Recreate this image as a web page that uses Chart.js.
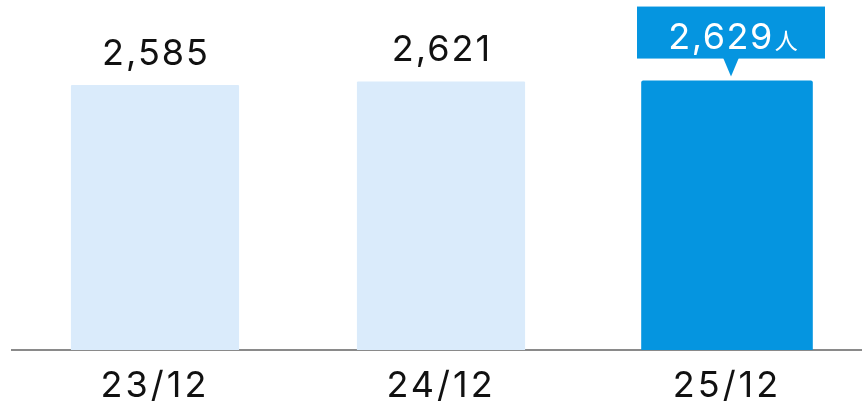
<!DOCTYPE html>
<html>
<head>
<meta charset="utf-8">
<script src="https://cdn.jsdelivr.net/npm/chart.js@4.4.1/dist/chart.umd.min.js"></script>
<style>
  html, body { margin: 0; padding: 0; background: #fff; overflow: hidden; }
  #wrap { position: relative; width: 870px; height: 405px; }
</style>
</head>
<body>
<div id="wrap"><canvas id="c"></canvas></div>
<script>
const categories = ['23/12', '24/12', '25/12'];
const values = [2585, 2621, 2629];
const highlightIndex = 2;
const unit = '人';

const FONT = 'Inter, "Noto Sans CJK JP", sans-serif';
const LIGHT = '#DAEBFB';
const BLUE = '#0595E0';

const spacingPlugin = {
  id: 'spacing',
  beforeDraw(chart) { chart.ctx.letterSpacing = '3px'; },
  afterDraw(chart) { chart.ctx.letterSpacing = '0px'; }
};

const labelPlugin = {
  id: 'valueLabels',
  afterDatasetsDraw(chart) {
    const ctx = chart.ctx;
    ctx.save();
    const meta0 = chart.getDatasetMeta(0);
    meta0.data.forEach((bar, i) => {
      if (i === highlightIndex) return;
      ctx.font = '400 36px ' + FONT;
      ctx.fillStyle = '#111';
      ctx.textAlign = 'center';
      ctx.textBaseline = 'alphabetic';
      ctx.letterSpacing = '2px';
      ctx.fillText(values[i].toLocaleString('en-US'), bar.x + 1, bar.y - 20);
    });
    const meta1 = chart.getDatasetMeta(1);
    const bar = meta1.data[highlightIndex];
    if (bar) {
      const cx = bar.x + 4;
      const top = bar.y;
      const bw = 188, bh = 52;
      const bx = cx - bw / 2, by = top - 74;
      ctx.fillStyle = BLUE;
      ctx.fillRect(bx, by, bw, bh);
      ctx.beginPath();
      ctx.moveTo(cx - 8, by + bh - 1);
      ctx.lineTo(cx + 8, by + bh - 1);
      ctx.lineTo(cx, top - 4);
      ctx.closePath();
      ctx.fill();
      const numText = values[highlightIndex].toLocaleString('en-US');
      ctx.letterSpacing = '1.5px';
      ctx.font = '400 36px ' + FONT;
      const w1 = ctx.measureText(numText).width;
      ctx.letterSpacing = '0px';
      ctx.font = '400 23px "Noto Sans CJK JP", sans-serif';
      const w2 = ctx.measureText(unit).width;
      const gap = 1;
      const total = w1 + gap + w2;
      let x = cx + 2 - total / 2;
      ctx.fillStyle = '#fff';
      ctx.textAlign = 'left';
      ctx.textBaseline = 'alphabetic';
      ctx.letterSpacing = '1.5px';
      ctx.font = '400 36px ' + FONT;
      ctx.fillText(numText, x, by + 42);
      ctx.letterSpacing = '0px';
      ctx.font = '400 23px "Noto Sans CJK JP", sans-serif';
      ctx.fillText(unit, x + w1 + gap, by + 42);
    }
    ctx.restore();
  }
};

new Chart(document.getElementById('c'), {
  type: 'bar',
  data: {
    labels: categories,
    datasets: [
      {
        data: values.map((v, i) => i === highlightIndex ? null : v),
        backgroundColor: LIGHT,
        barPercentage: 0.588,
        categoryPercentage: 1,
        grouped: false,
        borderRadius: 1,
        borderSkipped: 'bottom'
      },
      {
        data: values.map((v, i) => i === highlightIndex ? v : null),
        backgroundColor: BLUE,
        barPercentage: 0.6,
        categoryPercentage: 1,
        grouped: false,
        base: -20,
        borderRadius: 2,
        borderSkipped: false
      }
    ]
  },
  options: {
    responsive: true,
    maintainAspectRatio: false,
    animation: false,
    events: [],
    layout: { padding: { left: 12, right: 0, top: 0, bottom: 0 } },
    plugins: { legend: { display: false }, tooltip: { enabled: false } },
    scales: {
      x: {
        grid: { display: false, drawTicks: false },
        border: { display: true, color: '#8a8a8a', width: 2 },
        afterFit: (scale) => { scale.height = 55; },
        ticks: {
          color: '#111',
          font: { family: FONT, size: 36, weight: '400', lineHeight: 1.0 },
          padding: 18,
          maxRotation: 0
        }
      },
      y: {
        display: false,
        min: 0,
        max: 3415
      }
    }
  },
  plugins: [spacingPlugin, labelPlugin]
});
</script>
</body>
</html>
